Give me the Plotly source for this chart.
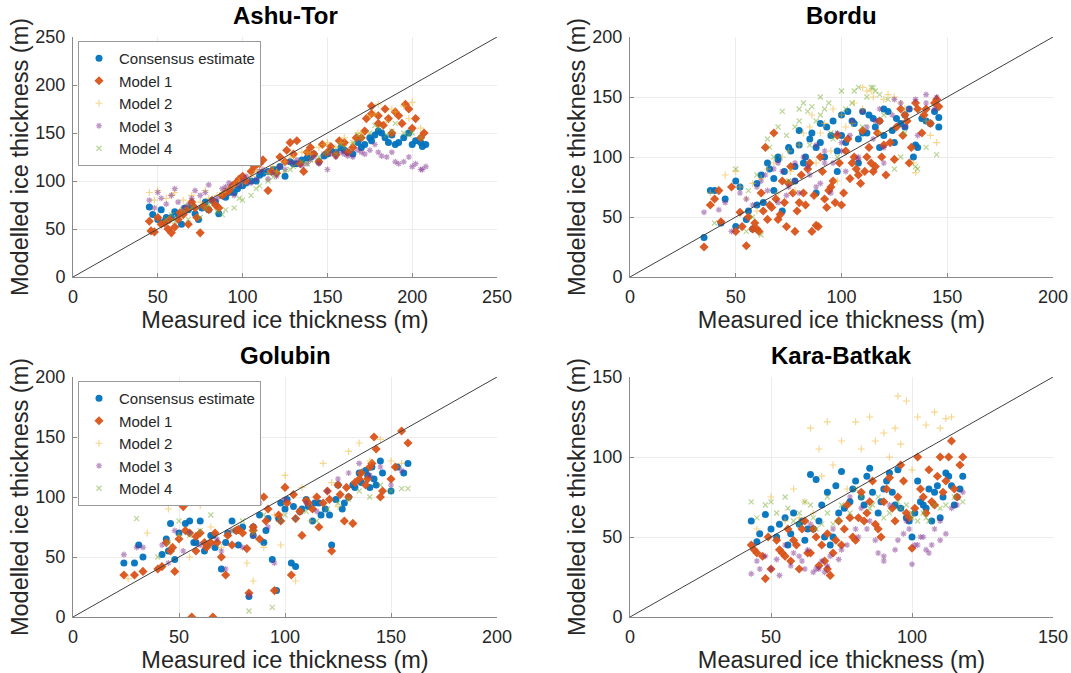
import plotly.graph_objects as go

# ---------------- data ----------------
panels = ["Ashu-Tor", "Bordu", "Golubin", "Kara-Batkak"]
axis_max = [250, 200, 200, 150]
series_names = ["Consensus estimate", "Model 1", "Model 2", "Model 3", "Model 4"]

# Ashu-Tor
ashu_cons_x = [45,47,52,55,58,62,66,70,74,78,82,86,90,95,100,105,110,115,120,125,130,135,140,145,150,155,160,165,170,175,178,182,186,190,195,200,205,208,
               50,54,60,64,68,72,76,80,84,88,92,97,102,108,112,118,122,128,132,138,142,148,152,158,162,168,172,176,180,184,188,192,198,202,206]
ashu_cons_y = [73,65,70,62,62,65,72,75,60,78,80,66,83,88,95,100,106,110,112,105,118,122,125,120,128,130,132,128,135,145,148,150,140,138,145,138,140,138,
               60,58,68,55,70,66,72,70,78,85,88,92,98,100,108,112,115,120,118,124,128,126,132,135,130,140,138,142,152,145,148,140,150,142,136]
ashu_m1_x = [45,48,52,56,58,62,65,68,72,75,80,84,88,92,96,100,105,110,115,120,125,128,132,136,140,145,150,155,160,165,170,173,176,180,184,188,192,196,200,205,
             46,50,54,57,60,63,67,70,73,77,82,86,90,94,98,102,107,112,117,122,126,130,134,138,142,147,152,157,162,167,172,176,180,183,186,190,194,198,202,207]
ashu_m1_y = [58,47,55,50,46,60,65,55,72,46,70,75,85,90,98,105,110,118,90,108,120,140,142,110,135,120,130,127,140,135,145,165,178,160,175,150,168,180,155,145,
             48,62,56,60,52,67,70,78,62,74,80,72,88,95,102,100,115,122,110,125,132,128,118,130,128,138,136,142,130,145,152,170,168,158,165,172,160,175,165,150]
ashu_m2_x = [45,50,55,60,65,70,75,80,85,90,95,100,105,110,115,120,125,130,135,140,145,150,155,160,165,170,175,180,185,190,195,200,205,
             48,58,68,78,88,98,108,118,128,138,148,158,168,178,188,198]
ashu_m2_y = [88,90,82,88,80,85,78,82,85,92,95,98,105,112,108,110,120,125,130,128,135,140,135,145,140,150,168,180,162,172,178,182,155,
             80,85,76,90,88,100,110,115,125,130,138,140,150,170,175,165]
ashu_m3_x = [45,50,55,60,65,70,75,80,85,90,95,100,105,110,115,120,125,130,135,140,145,150,155,160,165,170,175,180,185,190,195,200,205,208,
             48,52,58,62,68,72,78,82,88,92,98,102,108,112,118,122,128,132,138,142,148,152,158,162,168,172,178,182,188,192,198,202,206]
ashu_m3_y = [80,88,76,92,72,82,85,96,82,94,85,100,98,110,102,105,112,118,116,122,118,112,125,128,125,130,132,130,125,120,120,115,112,115,
             72,82,85,78,75,90,88,80,92,98,95,105,102,112,108,115,120,122,118,125,128,128,130,126,132,128,138,126,130,118,125,118,112]
ashu_m4_x = [55,60,65,70,75,80,85,90,95,100,105,110,115,120,125,130,135,140,145,150,155,160,165,170,175,180,185,190,195,200,205,
             58,68,78,88,98,108,118,128,138,148,158,168,178,188,198]
ashu_m4_y = [60,58,70,72,62,75,68,70,72,80,85,95,100,108,110,115,120,122,125,130,128,135,140,145,150,155,148,160,150,150,145,
             65,60,72,65,82,92,104,112,118,128,138,148,158,152,148]

# Bordu
bordu_cons_x = [35,40,43,50,50,55,58,60,62,65,68,70,72,75,78,80,82,85,88,90,92,95,98,100,102,105,108,110,112,115,118,120,125,128,130,135,138,142,146,146,
                38,45,52,56,60,63,66,68,70,73,76,78,80,83,86,88,90,93,96,98,100,103,106,108,110,113,116,118,120,122,124,126,130,132,134,136,140,144]
bordu_cons_y = [33,72,45,80,42,48,40,60,85,95,72,100,55,108,80,122,95,115,70,128,100,118,88,135,112,130,95,138,120,132,108,140,112,128,135,110,132,128,125,133,
                72,65,75,55,78,62,90,82,98,88,105,92,110,100,120,108,112,125,130,105,118,138,128,115,120,135,125,130,118,138,122,132,125,140,100,108,130,138]
bordu_m1_x = [35,40,43,50,52,55,58,60,62,64,66,68,70,72,74,76,78,80,82,84,86,88,90,92,95,98,100,102,105,108,110,112,115,118,120,125,128,130,132,135,138,140,145,
              38,42,48,53,56,59,61,63,65,67,69,71,73,75,77,79,81,83,85,87,89,91,93,94,96,97,99,101,103,104,106,107,109,111,113,114,116,117,119,121,123,126,129,131,133,136,139,142,144,146]
bordu_m1_y = [25,65,46,38,54,26,40,40,70,108,60,120,48,80,42,92,38,62,70,90,38,43,100,65,75,118,60,105,95,85,122,100,88,130,110,98,140,135,95,145,120,140,148,
              60,72,75,42,50,45,38,55,48,58,65,52,62,78,70,55,85,60,95,68,42,88,58,72,80,62,95,70,115,82,100,90,78,88,108,95,92,120,100,85,112,125,118,130,108,140,135,128,145,142]
bordu_m2_x = [38,45,50,55,58,60,65,70,72,75,78,80,85,88,90,95,98,100,105,110,112,115,118,120,125,130,135,140,145,
              52,62,68,76,82,86,92,96,102,106,110,114,122,128,134,142]
bordu_m2_y = [70,85,88,65,78,55,90,70,100,105,72,110,125,95,120,105,80,135,128,140,155,150,120,148,150,140,87,130,112,
              75,82,95,88,120,135,128,140,125,145,158,155,152,145,95,118]
bordu_m3_x = [35,42,48,55,58,62,65,68,70,72,75,78,80,82,85,88,90,92,95,98,100,102,105,108,110,115,118,120,125,130,135,140,145,
              45,52,60,64,70,74,78,84,88,92,96,100,104,108,112,116,120,124,128,132,136,140,144]
bordu_m3_y = [54,56,38,65,60,80,72,90,62,88,75,95,70,100,85,110,78,95,70,120,105,88,130,100,138,115,140,95,148,125,148,152,150,
              62,70,75,85,95,68,80,92,75,105,95,112,118,98,125,130,108,135,145,140,118,145,140]
bordu_m4_x = [40,50,55,58,62,65,68,70,72,75,78,80,82,85,88,90,92,95,98,100,105,108,110,115,118,120,125,130,135,140,145,
              56,60,66,74,80,84,86,90,94,96,102,106,112,114,116,122,128,136]
bordu_m4_y = [45,90,38,50,35,115,100,125,138,80,125,140,145,110,130,150,140,120,100,155,145,158,125,158,152,135,90,120,92,108,102,
              72,85,108,118,130,138,142,135,145,115,140,155,150,158,155,148,100,90]

# Golubin
gol_cons_x = [24,29,31,33,42,44,46,48,50,52,55,58,60,63,65,67,70,72,75,78,80,82,83,85,88,90,92,94,96,98,100,103,105,107,110,113,116,119,122,125,128,132,135,138,140,142,145,150,153,156,158,
              45,53,57,62,66,73,77,85,91,97,101,104,108,111,114,117,121,124,127,130,133,136,139,141,143,146]
gol_cons_y = [45,45,60,50,52,65,78,48,70,105,80,62,80,60,68,58,40,62,80,60,75,108,17,68,85,62,82,48,22,95,90,45,42,88,98,80,95,90,60,110,95,110,120,122,108,115,130,105,125,120,128,
              55,78,62,55,68,70,72,75,72,82,98,92,90,92,95,85,85,98,90,100,108,112,118,125,110,120]
gol_m1_x = [24,29,33,40,42,44,46,48,50,52,55,56,58,60,63,65,66,68,70,72,75,78,80,82,83,85,88,90,92,95,98,100,103,105,108,110,113,116,120,122,125,128,130,132,135,138,140,142,145,150,152,155,158,
            47,53,58,62,67,73,77,85,91,97,101,104,107,111,115,118,121,126,129,133,136,139,141,143,146]
gol_m1_y = [35,35,38,40,42,62,55,38,65,92,70,0,67,70,58,62,0,62,50,35,60,73,70,57,20,72,65,100,90,22,80,108,35,82,68,97,90,75,105,55,110,80,100,78,115,110,125,150,100,115,125,155,145,
            58,72,55,62,70,68,72,75,80,85,95,102,88,95,100,95,98,102,108,112,120,115,128,140,105]
gol_m2_x = [26,35,45,50,55,60,65,70,75,80,82,85,90,95,98,100,105,108,112,118,122,125,130,135,140,145,150,155]
gol_m2_y = [32,70,90,68,50,93,75,58,100,102,45,30,58,85,60,118,30,108,80,128,112,92,138,145,130,148,130,128]
gol_m3_x = [24,30,33,42,45,48,52,55,60,62,68,70,72,75,80,83,85,88,92,95,98,100,105,110,115,120,125,130,135,140,145,150,155]
gol_m3_y = [52,58,58,60,45,72,55,70,60,100,65,55,40,72,58,18,68,95,75,45,80,98,82,95,88,105,115,120,128,118,125,110,122]
gol_m4_x = [30,40,45,50,55,60,65,70,75,80,83,85,90,94,98,100,105,110,115,120,125,130,135,140,145,150,155,158]
gol_m4_y = [82,50,62,80,68,72,85,95,72,80,5,70,85,8,80,85,82,88,80,90,95,98,105,100,110,105,107,107]

# Kara-Batkak
kara_cons_x = [43,45,48,50,52,55,56,58,60,62,64,65,66,68,70,72,74,75,78,80,82,84,85,88,90,92,94,95,98,100,102,104,106,108,110,112,114,116,118,
               46,53,57,61,63,67,69,71,73,76,79,83,86,89,91,93,96,99,101,103,105,107,109,111,113,115,117]
kara_cons_y = [60,47,64,55,50,62,45,65,58,48,89,55,86,70,78,50,65,91,72,85,75,88,93,65,80,90,70,92,62,50,85,70,80,78,62,90,82,75,88,
               52,58,52,60,55,60,50,45,82,68,80,70,78,72,85,78,68,60,65,72,68,60,82,75,88,70,80]
kara_m1_x = [43,45,47,48,50,52,54,56,57,58,60,62,63,65,66,68,69,70,71,72,74,75,77,78,80,82,84,86,88,90,92,94,96,98,100,102,104,106,108,110,112,114,116,118,
             44,49,53,55,59,61,64,67,70,73,76,79,81,83,85,87,89,91,93,95,97,99,101,103,105,107,109,111,113,115,117]
kara_m1_y = [45,40,38,24,30,48,40,55,35,48,30,60,40,55,50,45,35,52,26,40,60,45,70,62,48,78,65,85,55,72,87,60,95,65,43,100,75,92,70,100,85,110,75,100,
             42,50,42,38,45,55,40,32,30,48,55,50,62,60,72,58,50,80,68,75,85,62,68,80,65,72,88,78,100,80,95]
kara_m2_x = [45,50,55,58,60,62,64,65,67,68,70,72,75,77,80,82,85,87,90,92,94,95,96,98,100,102,105,108,110,112,114]
kara_m2_y = [55,75,60,80,62,72,118,65,105,88,122,95,110,80,122,105,125,110,115,100,118,138,108,135,92,125,120,128,118,124,125]
kara_m3_x = [43,45,48,50,53,55,58,60,62,64,65,67,68,70,72,75,78,80,82,85,88,90,92,95,98,100,102,104,106,108,110,114,118,
             46,52,57,61,63,66,69,71,74,77,81,84,87,90,94,97,99,101,103,105,107,110,112,116]
kara_m3_y = [27,35,38,30,26,45,40,38,30,58,28,30,35,32,55,42,75,55,68,60,40,38,70,48,60,33,45,50,40,55,60,68,78,
             30,36,32,35,42,30,28,38,36,45,50,55,48,35,42,52,55,45,50,42,45,48,52,70]
kara_m4_x = [43,45,48,52,55,58,60,62,65,68,70,72,75,78,80,85,88,90,95,98,100,102,105,108,110,115,118,
             50,56,60,64,66,70,74,82,86,92,96,100,104,106,112]
kara_m4_y = [72,62,70,65,75,60,65,72,62,58,75,58,70,65,80,68,75,62,72,70,65,60,62,70,68,75,72,
             72,68,58,70,55,65,60,75,70,65,68,62,65,60,70]

panel_data = [
    [(ashu_cons_x, ashu_cons_y), (ashu_m1_x, ashu_m1_y), (ashu_m2_x, ashu_m2_y), (ashu_m3_x, ashu_m3_y), (ashu_m4_x, ashu_m4_y)],
    [(bordu_cons_x, bordu_cons_y), (bordu_m1_x, bordu_m1_y), (bordu_m2_x, bordu_m2_y), (bordu_m3_x, bordu_m3_y), (bordu_m4_x, bordu_m4_y)],
    [(gol_cons_x, gol_cons_y), (gol_m1_x, gol_m1_y), (gol_m2_x, gol_m2_y), (gol_m3_x, gol_m3_y), (gol_m4_x, gol_m4_y)],
    [(kara_cons_x, kara_cons_y), (kara_m1_x, kara_m1_y), (kara_m2_x, kara_m2_y), (kara_m3_x, kara_m3_y), (kara_m4_x, kara_m4_y)],
]

# ---------------- styles ----------------
colors = ["#0072BD", "#D95319", "#EDB120", "#7E2F8E", "#77AC30"]
symbols = ["circle", "diamond", "cross-thin", "asterisk", "x-thin"]
sizes = [7, 7, 5, 5, 5]
opac = [0.95, 0.95, 0.5, 0.5, 0.5]

W, H = 1071, 673
xdom = [(73 / W, 497 / W), (630 / W, 1053 / W)]
ydom = [(1 - 277 / H, 1 - 37 / H), (1 - 617 / H, 1 - 377 / H)]

FONT = "Liberation Sans, Arial, sans-serif"
fig = go.Figure()

for p in range(4):
    col = p % 2
    row = p // 2
    xa = "x" if p == 0 else f"x{p+1}"
    ya = "y" if p == 0 else f"y{p+1}"
    for s in range(5):
        xs, ys = panel_data[p][s]
        sym = symbols[s]
        thin = sym in ("cross-thin", "x-thin", "asterisk")
        marker = dict(color=colors[s], symbol=sym, size=sizes[s], opacity=opac[s])
        if thin:
            marker["line"] = dict(color=colors[s], width=1.2)
        else:
            marker["line"] = dict(width=0)
        show = p in (0, 2)
        fig.add_trace(go.Scatter(
            x=xs, y=ys, mode="markers", name=series_names[s], marker=marker,
            xaxis=xa, yaxis=ya, showlegend=show,
            legend=("legend" if p == 0 else "legend2") if show else None,
        ))
    m = axis_max[p]
    fig.add_trace(go.Scatter(x=[0, m], y=[0, m], mode="lines",
                             line=dict(color="#404040", width=1),
                             xaxis=xa, yaxis=ya, showlegend=False, hoverinfo="skip"))
    axcommon = dict(range=[0, m], dtick=50, showgrid=True, gridcolor="#ececec",
                    showline=True, linecolor="#8a8a8a", linewidth=1,
                    ticks="inside", ticklen=4, tickcolor="#8a8a8a",
                    tickfont=dict(family=FONT, size=18, color="#262626"),
                    zeroline=False, fixedrange=True, automargin=False)
    fig.layout[("xaxis" if p == 0 else f"xaxis{p+1}")] = dict(
        axcommon, domain=xdom[col], anchor=ya, ticklabelstandoff=3,
        title=dict(text="Measured ice thickness (m)", standoff=2,
                   font=dict(family=FONT, size=23.5, color="#262626")))
    fig.layout[("yaxis" if p == 0 else f"yaxis{p+1}")] = dict(
        axcommon, domain=ydom[row], anchor=xa, ticklabelstandoff=3,
        title=dict(text="Modelled ice thickness (m)", standoff=0,
                   font=dict(family=FONT, size=23.5, color="#262626")))
    fig.add_annotation(text=f"<b>{panels[p]}</b>", xref="paper", yref="paper",
                       x=(xdom[col][0] + xdom[col][1]) / 2, y=ydom[row][1],
                       yanchor="bottom", xanchor="center", showarrow=False, yshift=6,
                       font=dict(family=FONT, size=24, color="#000000"))

legend_style = dict(bgcolor="white", bordercolor="#9a9a9a", borderwidth=1,
                    font=dict(family=FONT, size=15, color="#262626"),
                    xanchor="left", yanchor="top", itemsizing="trace",
                    tracegroupgap=0, itemwidth=30)
fig.update_layout(
    width=W, height=H,
    margin=dict(l=0, r=0, t=0, b=0),
    paper_bgcolor="white", plot_bgcolor="white",
    showlegend=True,
    legend=dict(legend_style, x=78 / W, y=1 - 41 / H),
    legend2=dict(legend_style, x=78 / W, y=1 - 381 / H),
)

fig.write_html("out.html", config={"displayModeBar": False},
               post_script="document.body.style.margin='0';document.body.style.padding='0';")
